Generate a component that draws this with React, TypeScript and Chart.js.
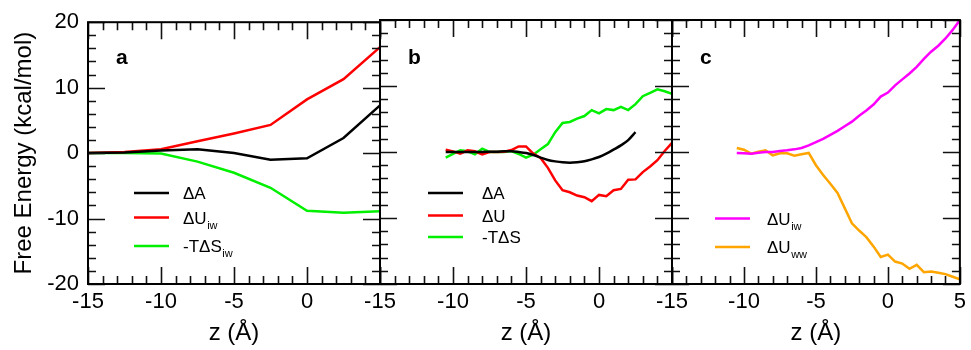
import React, { useEffect, useRef } from "react";
import { Chart, registerables } from "chart.js";

Chart.register(...registerables);

const FONT = '"Liberation Sans", Arial, Helvetica, sans-serif';

// ---------- data ----------
// Panel a
const Z_A = [-15, -12.5, -10, -7.5, -5, -2.5, 0, 2.5, 5];
const A_DA = [0, 0.1, 0.4, 0.6, 0, -1.0, -0.8, 2.3, 7.3];
const A_DU_IW = [0, 0.15, 0.6, 1.8, 3.0, 4.3, 8.2, 11.3, 16.2];
const A_TDS_IW = [0, 0, -0.05, -1.3, -3.0, -5.3, -8.8, -9.1, -8.9];

// Panels b and c
const Z_BC = [
  -10.5, -10, -9.5, -9, -8.5, -8, -7.5, -7, -6.5, -6, -5.5, -5, -4.5, -4, -3.5, -3,
  -2.5, -2, -1.5, -1, -0.5, 0, 0.5, 1, 1.5, 2, 2.5, 3, 3.5, 4, 4.5, 5,
];
const Z_B_DA = [
  -10.5, -10, -9.5, -9, -8.5, -8, -7.5, -7, -6.5, -6, -5.5, -5, -4.5, -4, -3.5, -3,
  -2.5, -2, -1.5, -1, -0.5, 0, 0.5, 1, 1.5, 2, 2.5,
];
const B_DA = [
  0, 0, 0, 0, 0, 0, 0.05, 0.05, 0.1, 0.1, 0.0, -0.15, -0.45, -0.85, -1.2, -1.42,
  -1.57, -1.62, -1.55, -1.4, -1.12, -0.76, -0.25, 0.36, 1.0, 1.8, 3.0,
];
const B_DU = [
  0.35, 0.1, -0.25, 0.25, 0.1, -0.35, 0.0, 0.0, 0.05, 0.3, 0.85, 0.85, -0.25, -0.9, -2.4, -4.3,
  -5.8, -6.1, -6.6, -6.85, -7.45, -6.5, -6.7, -5.8, -5.6, -4.2, -4.15, -3.05, -2.2, -1.25, 0.15, 1.4,
];
const B_TDS = [
  -0.85, -0.3, 0.25, 0.1, -0.35, 0.5, 0.0, 0.0, 0.0, 0.15, -0.3, -0.85, -0.4, 0.4, 1.2, 3.0,
  4.4, 4.55, 5.05, 5.45, 6.35, 5.85, 6.5, 6.35, 6.85, 6.35, 7.25, 8.45, 8.95, 9.5, 9.2, 8.8,
];
const C_DU_IW = [
  -0.15, -0.2, -0.25, -0.1, 0, 0, 0.15, 0.25, 0.4, 0.6, 1.0, 1.5, 2.0, 2.6, 3.2, 3.9,
  4.6, 5.5, 6.3, 7.2, 8.4, 9.0, 10.1, 11.0, 11.9, 12.9, 14.1, 15.2, 16.1, 17.2, 18.5, 20.0,
];
const C_DU_WW = [
  0.6, 0.35, -0.25, 0.05, 0.25, -0.5, -0.2, -0.2, -0.55, -0.35, -0.15, -2.0, -3.5, -4.8, -6.2, -8.5,
  -10.8, -11.9, -12.9, -14.3, -15.9, -15.55, -16.6, -16.9, -17.7, -17.1, -18.2, -18.1, -18.3, -18.5, -18.9, -19.3,
];

// axes
const X_RANGE = [-15, 5];
const Y_RANGE = [-20, 20];
const X_TICKS_A = [-15, -10, -5, 0];
const X_TICKS_B = [-15, -10, -5, 0];
const X_TICKS_C = [-15, -10, -5, 0, 5];
const Y_TICKS = [-20, -10, 0, 10, 20];
const PANEL_LETTERS = ["a", "b", "c"];

const pts = (xs: number[], ys: number[]) => ys.map((y, i) => ({ x: xs[i], y }));

// ---------- plugin: frame, inward ticks, legend, panel letter ----------
const decorPlugin = {
  id: "panelDecor",
  afterDraw(chart: any, _args: any, opts: any) {
    const ctx = chart.ctx as CanvasRenderingContext2D;
    const { left, right, top, bottom } = chart.chartArea;
    const xs = chart.scales.x;
    const ys = chart.scales.y;
    ctx.save();

    // ticks
    ctx.strokeStyle = "#111";
    ctx.lineWidth = 1.6;
    ctx.beginPath();
    for (let i = 0; ; i++) {
      const v = xs.min + i * opts.xMinor;
      if (v > xs.max + 1e-9) break;
      const major = Math.abs(v / opts.xMajor - Math.round(v / opts.xMajor)) < 1e-6;
      const len = major ? opts.majorLen : opts.minorLen;
      const px = Math.round(xs.getPixelForValue(v)) + 0.5;
      ctx.moveTo(px, bottom);
      ctx.lineTo(px, bottom - len);
      ctx.moveTo(px, top);
      ctx.lineTo(px, top + len);
    }
    for (let i = 0; ; i++) {
      const v = ys.min + i * opts.yMinor;
      if (v > ys.max + 1e-9) break;
      const major = Math.abs(v / opts.yMajor - Math.round(v / opts.yMajor)) < 1e-6;
      const len = major ? opts.majorLen : opts.minorLen;
      const py = Math.round(ys.getPixelForValue(v)) + 0.5;
      ctx.moveTo(left, py);
      ctx.lineTo(left + len, py);
      ctx.moveTo(right, py);
      ctx.lineTo(right - len, py);
    }
    ctx.stroke();

    // frame
    ctx.strokeStyle = "#000";
    ctx.lineWidth = 2;
    ctx.strokeRect(left, top, right - left, bottom - top);

    // panel letter
    ctx.fillStyle = "#000";
    ctx.font = `bold 21px ${FONT}`;
    ctx.textAlign = "left";
    ctx.textBaseline = "alphabetic";
    ctx.fillText(opts.letter, left + 28, 64);

    // legend
    const lg = opts.legend;
    chart.data.datasets.forEach((ds: any, i: number) => {
      const y = lg.rows[i];
      ctx.strokeStyle = ds.borderColor;
      ctx.lineWidth = 2.5;
      ctx.beginPath();
      ctx.moveTo(left + lg.lineX, y);
      ctx.lineTo(left + lg.lineX + 35, y);
      ctx.stroke();
      const [main, sub] = String(ds.label).split("_");
      ctx.fillStyle = "#000";
      ctx.font = `17px ${FONT}`;
      ctx.textBaseline = "alphabetic";
      const tx = left + lg.textX;
      ctx.fillText(main, tx, y + 6);
      if (sub) {
        const w = ctx.measureText(main).width;
        ctx.font = `11px ${FONT}`;
        ctx.fillText(sub, tx + w + 0.5, y + 11);
      }
    });
    ctx.restore();
  },
};

type PanelCfg = {
  left: number;
  width: number;
  padLeft: number;
  padRight: number;
  showY: boolean;
  xTicks: number[];
  letter: string;
  legend: { lineX: number; textX: number; rows: number[] };
  datasets: any[];
};

function Panel({ cfg }: { cfg: PanelCfg }) {
  const ref = useRef<HTMLCanvasElement>(null);
  useEffect(() => {
    const chart = new Chart(ref.current as HTMLCanvasElement, {
      type: "line",
      data: { datasets: cfg.datasets },
      options: {
        responsive: false,
        animation: false,
        devicePixelRatio: 1,
        layout: { padding: { left: cfg.padLeft, right: cfg.padRight, top: 20, bottom: 0 } },
        elements: {
          point: { radius: 0, hoverRadius: 0 },
          line: { borderWidth: 2.5, tension: 0, fill: false },
        },
        plugins: {
          legend: { display: false },
          tooltip: { enabled: false },
          panelDecor: {
            xMinor: 1,
            xMajor: 5,
            yMinor: 2,
            yMajor: 10,
            majorLen: 17,
            minorLen: 8,
            letter: cfg.letter,
            legend: cfg.legend,
          },
        } as any,
        scales: {
          x: {
            type: "linear",
            min: X_RANGE[0],
            max: X_RANGE[1],
            grid: { display: false, drawTicks: false },
            border: { display: false },
            ticks: {
              stepSize: 5,
              autoSkip: false,
              maxRotation: 0,
              padding: 5,
              color: "#000",
              font: { family: FONT, size: 22 },
              callback: (v: any) => (cfg.xTicks.includes(Number(v)) ? String(v) : ""),
            },
            title: {
              display: true,
              text: "z (Å)",
              color: "#000",
              font: { family: FONT, size: 24 },
              padding: { top: 0, bottom: 2 },
            },
            afterFit: (s: any) => {
              s.height = 66;
            },
          },
          y: {
            type: "linear",
            display: cfg.showY,
            min: Y_RANGE[0],
            max: Y_RANGE[1],
            grid: { display: false, drawTicks: false },
            border: { display: false },
            ticks: {
              stepSize: 10,
              padding: 9,
              color: "#000",
              font: { family: FONT, size: 22 },
              callback: (v: any) => (Y_TICKS.includes(Number(v)) ? String(v) : ""),
            },
            title: {
              display: true,
              text: "Free Energy (kcal/mol)",
              color: "#000",
              font: { family: FONT, size: 24 },
              padding: { top: 10, bottom: 0 },
            },
            afterFit: (s: any) => {
              s.width = cfg.showY ? 88 : 0;
            },
          },
        },
      } as any,
      plugins: [decorPlugin as any],
    });
    return () => chart.destroy();
  }, []);
  return (
    <canvas
      ref={ref}
      width={cfg.width}
      height={350}
      style={{ position: "absolute", left: cfg.left, top: 0, width: cfg.width, height: 350 }}
    />
  );
}

const PANELS: PanelCfg[] = [
  {
    left: 0,
    width: 400,
    padLeft: 0,
    padRight: 20,
    showY: true,
    xTicks: X_TICKS_A,
    letter: PANEL_LETTERS[0],
    legend: { lineX: 46, textX: 95, rows: [193, 217.5, 246] },
    datasets: [
      { label: "ΔA", data: pts(Z_A, A_DA), borderColor: "#000000" },
      { label: "ΔU_iw", data: pts(Z_A, A_DU_IW), borderColor: "#ff0000" },
      { label: "-TΔS_iw", data: pts(Z_A, A_TDS_IW), borderColor: "#00f000" },
    ],
  },
  {
    left: 340,
    width: 360,
    padLeft: 40,
    padRight: 28,
    showY: false,
    xTicks: X_TICKS_B,
    letter: PANEL_LETTERS[1],
    legend: { lineX: 48, textX: 102, rows: [193, 215.5, 237] },
    datasets: [
      { label: "ΔA", data: pts(Z_B_DA, B_DA), borderColor: "#000000", cubicInterpolationMode: "monotone" },
      { label: "ΔU", data: pts(Z_BC, B_DU), borderColor: "#ff0000" },
      { label: "-TΔS", data: pts(Z_BC, B_TDS), borderColor: "#00f000" },
    ],
  },
  {
    left: 632,
    width: 339,
    padLeft: 40,
    padRight: 8,
    showY: false,
    xTicks: X_TICKS_C,
    letter: PANEL_LETTERS[2],
    legend: { lineX: 43, textX: 95, rows: [218.5, 247] },
    datasets: [
      { label: "ΔU_iw", data: pts(Z_BC, C_DU_IW), borderColor: "#ff00ff" },
      { label: "ΔU_ww", data: pts(Z_BC, C_DU_WW), borderColor: "#ffa500" },
    ],
  },
];

export default function App() {
  return (
    <div style={{ position: "absolute", left: 0, top: 0, width: 971, height: 350, background: "#fff", overflow: "hidden" }}>
      {PANELS.map((p, i) => (
        <Panel key={i} cfg={p} />
      ))}
    </div>
  );
}
